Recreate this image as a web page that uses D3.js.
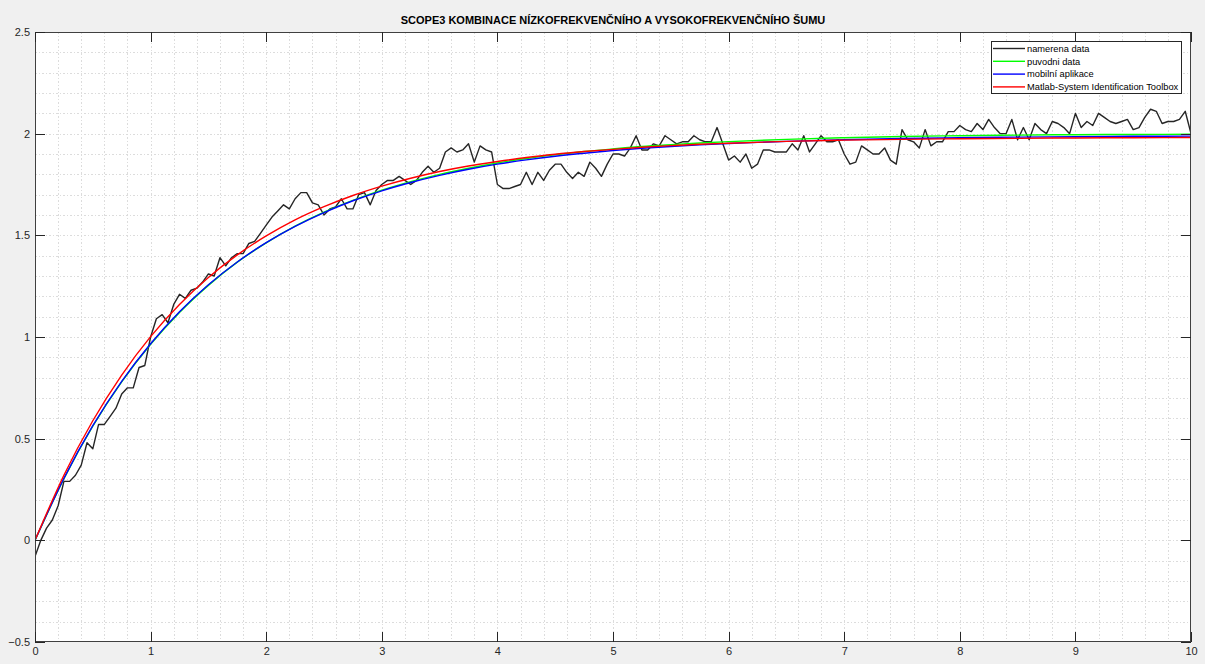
<!DOCTYPE html>
<html>
<head>
<meta charset="utf-8">
<script src="https://cdn.jsdelivr.net/npm/d3@7"></script>
<style>
  html, body { margin: 0; padding: 0; background: #f0f0f0; }
  svg { display: block; }
  text { font-family: "Liberation Sans", Arial, Helvetica, sans-serif; }
</style>
</head>
<body>
<svg id="chart" width="1205" height="664"></svg>
<script>
// Measured step response (sampled every 0.05 s)
const sampleStep = 0.05;
const measured = [
  -0.08, 0.00, 0.06, 0.10, 0.17, 0.29, 0.29, 0.32, 0.37, 0.48,
  0.45, 0.57, 0.57, 0.61, 0.65, 0.72, 0.75, 0.75, 0.85, 0.86,
  1.00, 1.09, 1.11, 1.07, 1.16, 1.21, 1.19, 1.23, 1.24, 1.27,
  1.31, 1.30, 1.39, 1.35, 1.39, 1.41, 1.41, 1.46, 1.47, 1.51,
  1.55, 1.59, 1.62, 1.65, 1.63, 1.68, 1.71, 1.71, 1.66, 1.65,
  1.60, 1.63, 1.64, 1.68, 1.63, 1.63, 1.70, 1.71, 1.65, 1.72,
  1.75, 1.77, 1.77, 1.79, 1.77, 1.75, 1.77, 1.81, 1.84, 1.81,
  1.83, 1.91, 1.93, 1.91, 1.92, 1.95, 1.86, 1.94, 1.92, 1.91,
  1.75, 1.73, 1.73, 1.74, 1.75, 1.81, 1.75, 1.81, 1.77, 1.82,
  1.85, 1.85, 1.81, 1.78, 1.81, 1.79, 1.86, 1.83, 1.79, 1.85,
  1.90, 1.90, 1.89, 1.93, 1.99, 1.92, 1.92, 1.95, 1.94, 1.99,
  1.97, 1.95, 1.96, 1.96, 1.99, 1.97, 1.96, 1.96, 2.03, 1.95,
  1.87, 1.89, 1.86, 1.90, 1.83, 1.85, 1.92, 1.92, 1.91, 1.91,
  1.91, 1.95, 1.92, 1.99, 1.91, 1.95, 1.99, 1.96, 1.96, 1.97,
  1.90, 1.85, 1.86, 1.94, 1.92, 1.90, 1.90, 1.93, 1.87, 1.85,
  2.02, 1.97, 1.96, 1.93, 2.02, 1.94, 1.96, 1.96, 2.01, 2.01,
  2.04, 2.02, 2.01, 2.05, 2.02, 2.07, 2.03, 2.00, 2.00, 2.07,
  1.97, 2.03, 1.97, 2.05, 2.02, 2.00, 2.06, 2.05, 2.03, 2.00,
  2.10, 2.03, 2.06, 2.04, 2.10, 2.08, 2.06, 2.05, 2.06, 2.07,
  2.02, 2.03, 2.08, 2.12, 2.11, 2.05, 2.06, 2.06, 2.07, 2.11,
  2.00
];

// Time grid for the model responses
const modelTime = [
  0, 0.25, 0.5, 0.75, 1, 1.25, 1.5, 1.75, 2, 2.25, 2.5, 2.75, 3, 3.25,
  3.5, 3.75, 4, 4.25, 4.5, 4.75, 5, 5.25, 5.5, 5.75, 6, 6.5, 7, 7.5,
  8, 8.5, 9, 9.5, 10
];
// Original (noise-free) response
const original = [
  0, 0.303, 0.561, 0.779, 0.964, 1.121, 1.254, 1.368, 1.463, 1.545,
  1.614, 1.672, 1.722, 1.764, 1.800, 1.830, 1.856, 1.878, 1.896, 1.912,
  1.925, 1.937, 1.946, 1.954, 1.961, 1.972, 1.980, 1.986, 1.990, 1.993,
  1.995, 1.996, 1.997
];
// Model identified by the mobile application
const mobileApp = [
  0, 0.305, 0.564, 0.782, 0.967, 1.124, 1.257, 1.369, 1.464, 1.544,
  1.612, 1.670, 1.719, 1.760, 1.795, 1.825, 1.850, 1.871, 1.889, 1.904,
  1.917, 1.928, 1.937, 1.945, 1.952, 1.962, 1.970, 1.976, 1.980, 1.983,
  1.985, 1.987, 1.988
];
// Model identified by the System Identification Toolbox
const sysIdent = [
  0, 0.320, 0.588, 0.813, 1.002, 1.160, 1.293, 1.404, 1.497, 1.576,
  1.641, 1.696, 1.742, 1.781, 1.814, 1.841, 1.863, 1.883, 1.899, 1.912,
  1.923, 1.933, 1.941, 1.948, 1.953, 1.962, 1.968, 1.972, 1.975, 1.977,
  1.979, 1.980, 1.981
];

const xTicks = [0, 1, 2, 3, 4, 5, 6, 7, 8, 9, 10];
const yTicks = [-0.5, 0, 0.5, 1, 1.5, 2, 2.5];
const legendLabels = ["namerena data", "puvodni data", "mobilní aplikace", "Matlab-System Identification Toolbox"];
const titleText = "SCOPE3 KOMBINACE NÍZKOFREKVENČNÍHO A VYSOKOFREKVENČNÍHO ŠUMU";

const colors = ["#262626", "#00ff00", "#0000ff", "#ff0000"];

const svg = d3.select("#chart");
const L = 35, R = 1191, T = 32, B = 642;

const x = d3.scaleLinear().domain([0, 10]).range([L, R]);
const y = d3.scaleLinear().domain([-0.5, 2.5]).range([B, T]);

// figure background and axes area
svg.append("rect").attr("width", 1205).attr("height", 664).attr("fill", "#f0f0f0");
svg.append("rect").attr("x", L).attr("y", T).attr("width", R - L).attr("height", B - T).attr("fill", "#ffffff");

// grid (minor + major, dotted)
const grid = svg.append("g").attr("stroke", "#dcdcdc").attr("stroke-width", 1)
  .attr("stroke-dasharray", "1.5,2").attr("shape-rendering", "crispEdges");
const xMinor = d3.range(0, 10.0001, 0.2).map(v => +v.toFixed(2));
const yMinor = d3.range(-0.5, 2.5001, 0.1).map(v => +v.toFixed(2));
grid.selectAll(".vx").data(xMinor.filter(v => v > 0 && v < 10)).join("line")
  .attr("x1", d => Math.round(x(d)) + 0.5).attr("x2", d => Math.round(x(d)) + 0.5)
  .attr("y1", T).attr("y2", B);
grid.selectAll(".hy").data(yMinor.filter(v => v > -0.5 && v < 2.5)).join("line")
  .attr("class", "hy")
  .attr("y1", d => Math.round(y(d)) + 0.5).attr("y2", d => Math.round(y(d)) + 0.5)
  .attr("x1", L).attr("x2", R);

// data lines
const clip = svg.append("clipPath").attr("id", "plotclip")
  .append("rect").attr("x", L).attr("y", T).attr("width", R - L).attr("height", B - T);
const plot = svg.append("g").attr("clip-path", "url(#plotclip)");

const line = d3.line().x(d => x(d[0])).y(d => y(d[1]));
const smooth = d3.line().x(d => x(d[0])).y(d => y(d[1])).curve(d3.curveMonotoneX);

const measuredPts = measured.map((v, i) => [i * sampleStep, v]);
plot.append("path").attr("d", line(measuredPts)).attr("fill", "none")
  .attr("stroke", colors[0]).attr("stroke-width", 1.4).attr("stroke-linejoin", "round");

[[original, colors[1]], [mobileApp, colors[2]], [sysIdent, colors[3]]].forEach(([vals, c]) => {
  plot.append("path").attr("d", smooth(modelTime.map((t, i) => [t, vals[i]])))
    .attr("fill", "none").attr("stroke", c).attr("stroke-width", 1.4);
});

// axes box
svg.append("rect").attr("x", L + 0.5).attr("y", T + 0.5).attr("width", R - L - 1).attr("height", B - T - 1)
  .attr("fill", "none").attr("stroke", "#404040").attr("stroke-width", 1).attr("shape-rendering", "crispEdges");

// ticks (inward, on all four sides)
const tickLen = 10;
const axisBottom = d3.axisBottom(x).tickValues(xTicks).tickSizeInner(-tickLen).tickSizeOuter(0).tickPadding(5)
  .tickFormat(d3.format("d"));
const axisTop = d3.axisTop(x).tickValues(xTicks).tickSizeInner(-tickLen).tickSizeOuter(0).tickFormat("");
const axisLeft = d3.axisLeft(y).tickValues(yTicks).tickSizeInner(-tickLen).tickSizeOuter(0).tickPadding(5)
  .tickFormat(d => d3.format("")(d));
const axisRight = d3.axisRight(y).tickValues(yTicks).tickSizeInner(-tickLen).tickSizeOuter(0).tickFormat("");

function styleAxis(g) {
  g.select(".domain").remove();
  g.selectAll(".tick line").attr("stroke", "#262626").attr("shape-rendering", "crispEdges");
  g.selectAll(".tick text").attr("fill", "#262626").style("font-size", "11px")
    .style("font-family", "'Liberation Sans', Arial, sans-serif");
}
svg.append("g").attr("transform", `translate(0,${B})`).call(axisBottom).call(styleAxis);
svg.append("g").attr("transform", `translate(0,${T})`).call(axisTop).call(styleAxis);
svg.append("g").attr("transform", `translate(${L},0)`).call(axisLeft).call(styleAxis);
svg.append("g").attr("transform", `translate(${R},0)`).call(axisRight).call(styleAxis);

// title
svg.append("text").attr("x", (L + R) / 2).attr("y", 24).attr("text-anchor", "middle")
  .style("font-size", "11px").style("font-weight", "bold").attr("fill", "#000")
  .text(titleText);

// legend
const lg = svg.append("g").attr("transform", "translate(991,41)");
lg.append("rect").attr("x", 0.5).attr("y", 0.5).attr("width", 190).attr("height", 52)
  .attr("fill", "#ffffff").attr("stroke", "#262626").attr("stroke-width", 1).attr("shape-rendering", "crispEdges");
legendLabels.forEach((lab, i) => {
  const yy = 7.5 + i * 12.8;
  lg.append("line").attr("x1", 2).attr("x2", 34).attr("y1", yy).attr("y2", yy)
    .attr("stroke", colors[i]).attr("stroke-width", 1.4);
  lg.append("text").attr("x", 36).attr("y", yy + 3.3).style("font-size", "9.3px").attr("fill", "#000").text(lab);
});
</script>
</body>
</html>
